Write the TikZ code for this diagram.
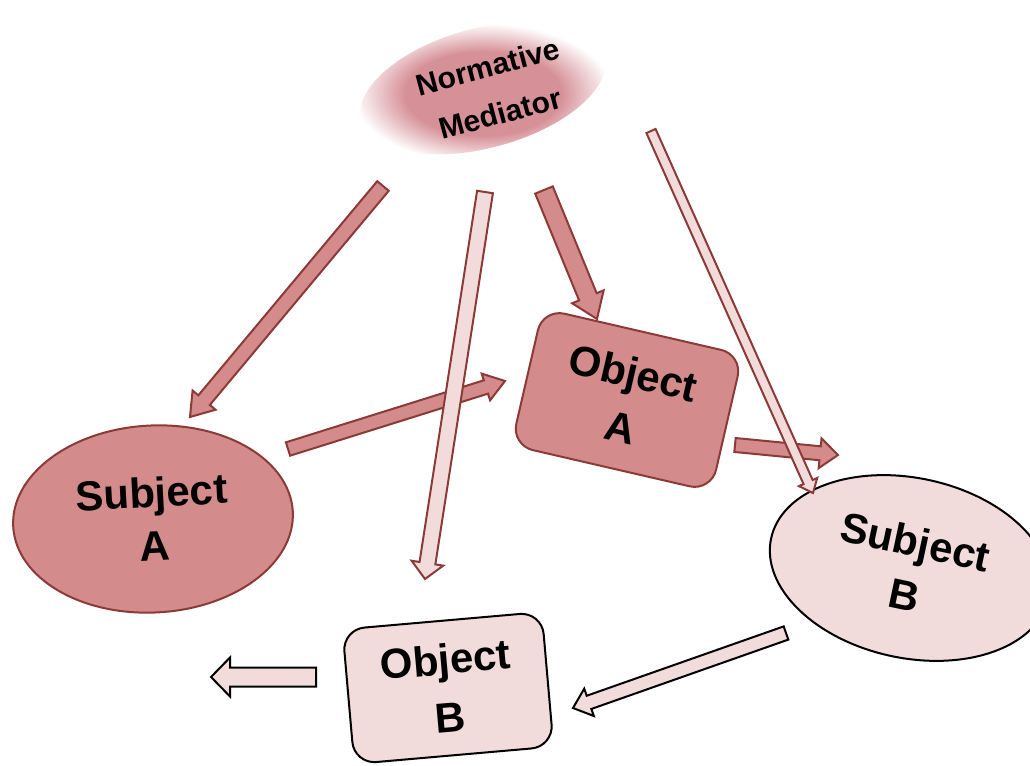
\documentclass[tikz,border=0pt]{standalone}
\usepackage{fontspec}
\setmainfont{Liberation Sans}
\usetikzlibrary{shapes.geometric,calc}
\definecolor{rosefill}{RGB}{211,139,139}
\definecolor{roseline}{RGB}{140,58,56}
\definecolor{palefill}{RGB}{242,220,219}
\definecolor{glow}{RGB}{214,145,152}
\pgfdeclareradialshading{glowshade}{\pgfpointorigin}{color(0bp)=(glow); color(15bp)=(glow); color(25bp)=(white); color(50bp)=(white)}

% block arrow: [style]{tail}{tip}{half shaft}{half head}{head length}
\newcommand{\blockarrow}[6][]{%
  \coordinate (neck) at ($(#3)!#6!(#2)$);
  \draw[#1] ($(#2)!#4!90:(#3)$) -- ($(neck)!#4!-90:(#2)$) -- ($(neck)!#5!-90:(#2)$) -- (#3)
    -- ($(neck)!#5!90:(#2)$) -- ($(neck)!#4!90:(#2)$) -- ($(#2)!#4!-90:(#3)$) -- cycle;}

\begin{document}
\begin{tikzpicture}[x=0.5pt, y=-0.5pt,
  subjdark/.style={ellipse, draw=roseline, fill=rosefill, line width=1pt, inner sep=0pt, align=center, font=\bfseries\fontsize{21}{27}\selectfont},
  subjpale/.style={ellipse, draw=black, fill=palefill, line width=1pt, inner sep=0pt, align=center, font=\bfseries\fontsize{21}{27}\selectfont},
  objdark/.style={rectangle, rounded corners=11pt, draw=roseline, fill=rosefill, line width=1pt, inner sep=0pt, align=center, font=\bfseries\fontsize{21}{28}\selectfont},
  objpale/.style={rectangle, rounded corners=11pt, draw=black, fill=palefill, line width=1pt, inner sep=0pt, align=center, font=\bfseries\fontsize{21}{29}\selectfont},
  darkarrow/.style={draw=roseline, fill=rosefill, line width=1pt, line join=miter},
  palearrow/.style={draw=roseline, fill=palefill, line width=1pt, line join=miter}]
\useasboundingbox (0,0) rectangle (1030,766);

% mediator glow
\begin{scope}[shift={(483,88)}, rotate=15]
  \shade[shading=glowshade] (0,0) ellipse (126 and 60);
\end{scope}
\node[rotate=15, align=center, font=\bfseries\fontsize{15}{24}\selectfont] (med) at (494,90) {Normative\\Mediator};

\node[subjdark, rotate=3, minimum width=140pt, minimum height=93.5pt] (subjA) at (153,519) {Subject\\A};
\node[objdark, rotate=-13, minimum width=102.5pt, minimum height=70pt] (objA) at (627,400) {Object\\A};
\node[subjpale, rotate=-12, minimum width=142pt, minimum height=90pt] (subjB) at (910,568) {Subject\\B};
\node[objpale, rotate=5, minimum width=100pt, minimum height=67.5pt] (objB) at (448,688) {Object\\B};

% dark arrows
\coordinate (ms1) at (383,186); \coordinate (ms2) at (190,417);
\blockarrow[darkarrow]{ms1}{ms2}{3.75pt}{7.5pt}{11pt}
\coordinate (mo1) at (544,190); \coordinate (mo2) at (597,319);
\blockarrow[darkarrow]{mo1}{mo2}{4.75pt}{8.5pt}{12pt}
\coordinate (so1) at (288,449); \coordinate (so2) at (505,381);
\blockarrow[darkarrow]{so1}{so2}{3.5pt}{7pt}{10pt}
\coordinate (os1) at (735,445); \coordinate (os2) at (838,455);
\blockarrow[darkarrow]{os1}{os2}{3.5pt}{7.5pt}{9pt}

% pale arrows
\coordinate (mb1) at (485,192); \coordinate (mb2) at (425,579);
\blockarrow[palearrow]{mb1}{mb2}{4pt}{8pt}{8pt}
\coordinate (mt1) at (651,131); \coordinate (mt2) at (813,493);
\blockarrow[palearrow]{mt1}{mt2}{2.5pt}{5pt}{6pt}
\coordinate (bb1) at (786,633); \coordinate (bb2) at (573,708);
\blockarrow[palearrow, draw=black]{bb1}{bb2}{3.5pt}{7.25pt}{8.5pt}
\coordinate (bo1) at (316,677); \coordinate (bo2) at (211,677);
\blockarrow[palearrow, draw=black]{bo1}{bo2}{4.75pt}{9.75pt}{9.5pt}
\end{tikzpicture}
\end{document}
